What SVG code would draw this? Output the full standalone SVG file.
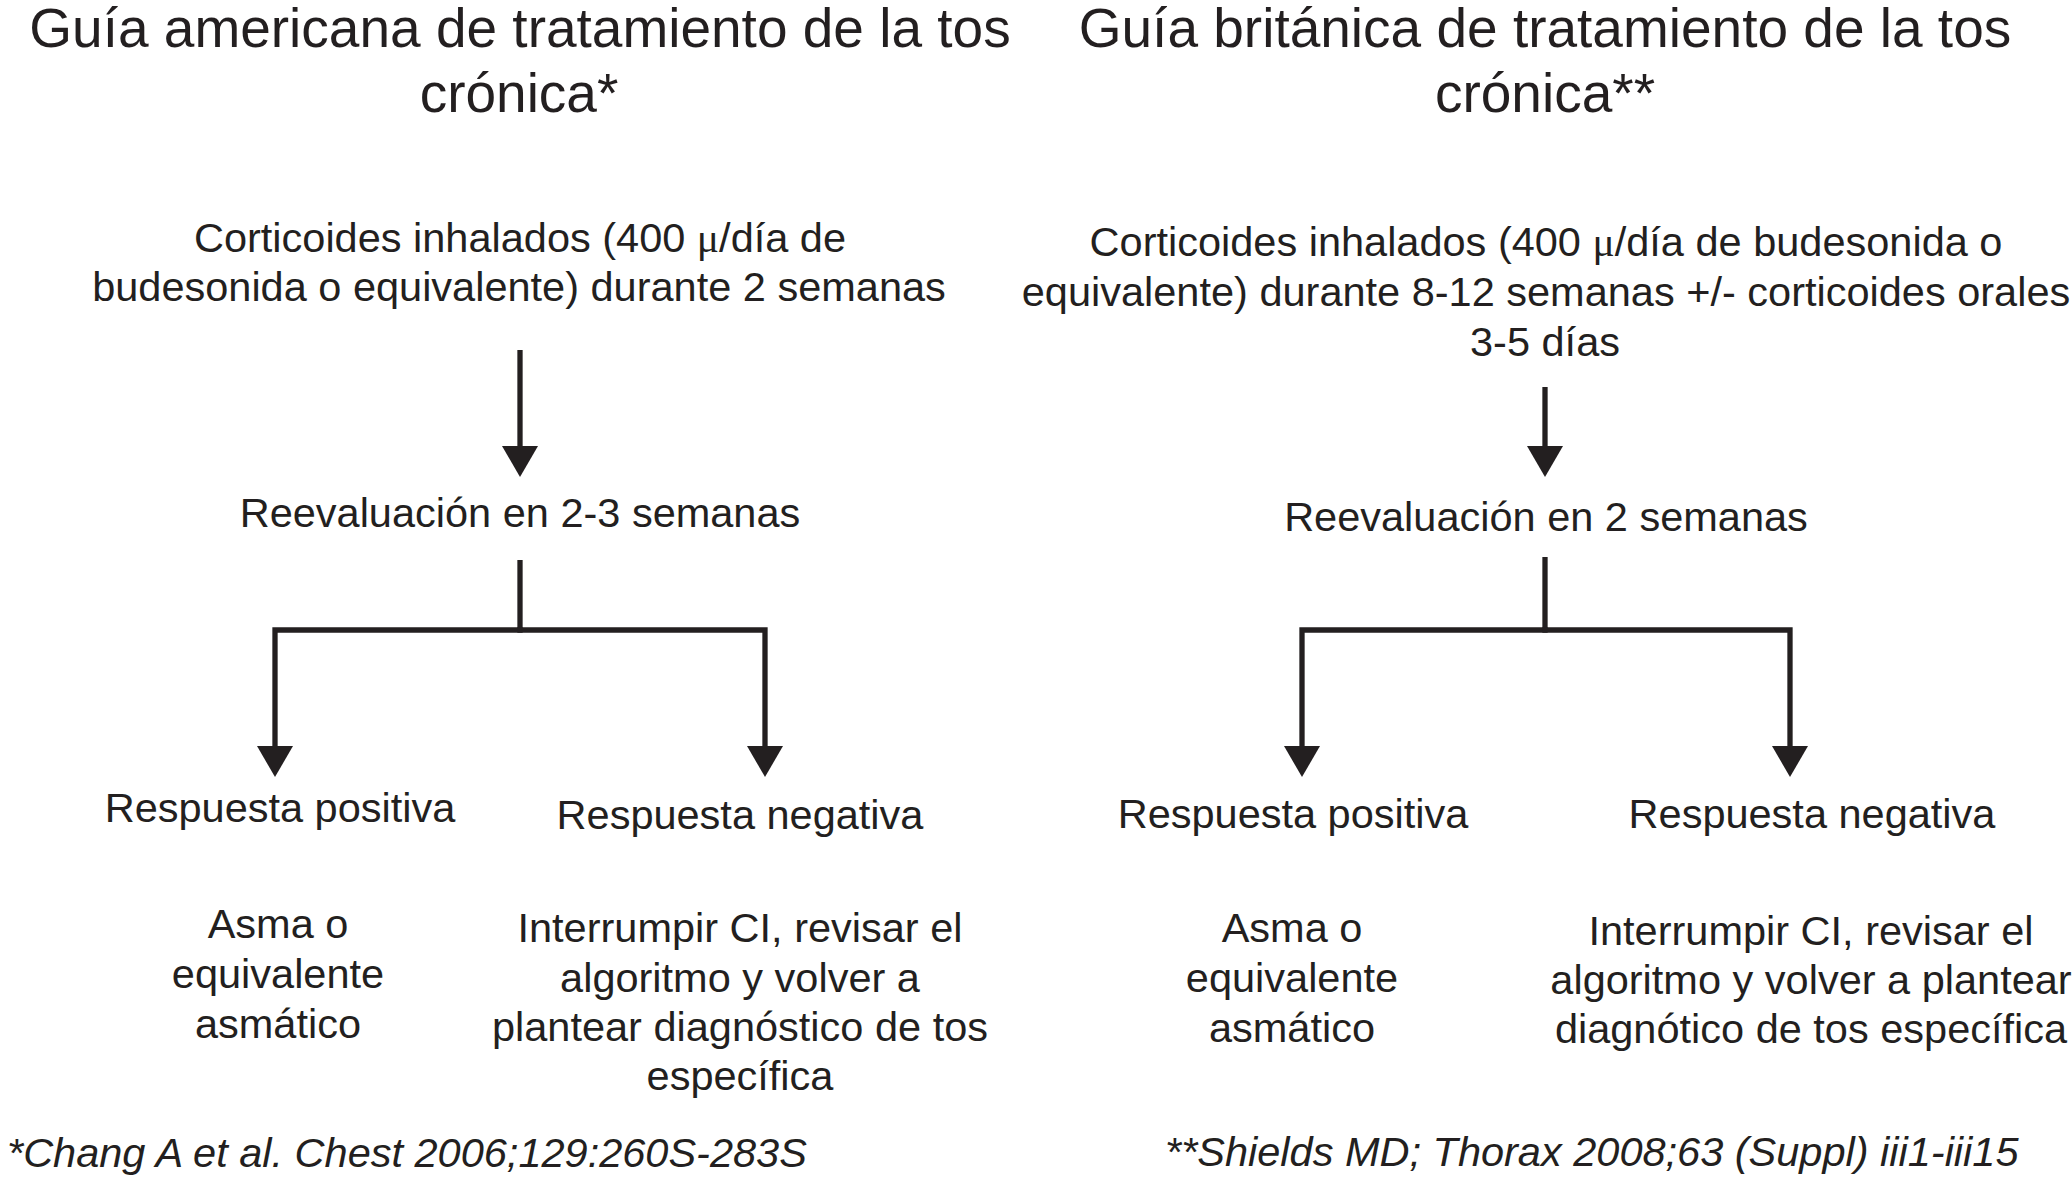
<svg xmlns="http://www.w3.org/2000/svg" width="2072" height="1178" viewBox="0 0 2072 1178">
<style>
text{font-family:"Liberation Sans",Arial,Helvetica,sans-serif;fill:#231f20;text-anchor:middle}
.t{font-size:55px}
.b{font-size:41.5px}
.f{font-size:41.5px;font-style:italic;text-anchor:start}
.mu{font-family:"Liberation Serif","Times New Roman",serif}
.c{fill:none;stroke:#231f20;stroke-width:5.3;stroke-linejoin:miter;stroke-linecap:butt}
</style>
<defs>
<marker id="ah" viewBox="0 0 31 36" refX="1" refY="18" markerWidth="31" markerHeight="36" markerUnits="userSpaceOnUse" orient="auto">
<path d="M0,0 L31,18 L0,36 Z" fill="#231f20"/>
</marker>
</defs>
<rect width="2072" height="1178" fill="#ffffff"/>
<g id="title-left"><text class="t" x="520" y="47">Guía americana de tratamiento de la tos</text><text class="t" x="519" y="112">crónica*</text></g>
<g id="title-right"><text class="t" x="1545" y="47">Guía británica de tratamiento de la tos</text><text class="t" x="1545" y="112">crónica**</text></g>
<g id="left-ci"><text class="b" x="520" y="252">Corticoides inhalados (400 <tspan class="mu">μ</tspan>/día de</text><text class="b" x="519" y="301">budesonida o equivalente) durante 2 semanas</text></g>
<g id="right-ci"><text class="b" x="1546" y="256">Corticoides inhalados (400 <tspan class="mu">μ</tspan>/día de budesonida o</text><text class="b" x="1546" y="306">equivalente) durante 8-12 semanas +/- corticoides orales</text><text class="b" x="1545" y="356">3-5 días</text></g>
<g id="left-reeval"><text class="b" x="520" y="527">Reevaluación en 2-3 semanas</text></g>
<g id="right-reeval"><text class="b" x="1546" y="531">Reevaluación en 2 semanas</text></g>
<g id="left-pos"><text class="b" x="280" y="822">Respuesta positiva</text></g>
<g id="left-neg"><text class="b" x="740" y="829">Respuesta negativa</text></g>
<g id="right-pos"><text class="b" x="1293" y="828">Respuesta positiva</text></g>
<g id="right-neg"><text class="b" x="1812" y="828">Respuesta negativa</text></g>
<g id="left-asma"><text class="b" x="278" y="938">Asma o</text><text class="b" x="278" y="988">equivalente</text><text class="b" x="278" y="1038">asmático</text></g>
<g id="left-interr"><text class="b" x="740" y="942">Interrumpir CI, revisar el</text><text class="b" x="740" y="992">algoritmo y volver a</text><text class="b" x="740" y="1041">plantear diagnóstico de tos</text><text class="b" x="740" y="1090">específica</text></g>
<g id="right-asma"><text class="b" x="1292" y="942">Asma o</text><text class="b" x="1292" y="992">equivalente</text><text class="b" x="1292" y="1042">asmático</text></g>
<g id="right-interr"><text class="b" x="1811" y="945">Interrumpir CI, revisar el</text><text class="b" x="1811" y="994">algoritmo y volver a plantear</text><text class="b" x="1811" y="1043">diagnótico de tos específica</text></g>
<g id="ref-left"><text class="f" x="7" y="1167">*Chang A et al. Chest 2006;129:260S-283S</text></g>
<g id="ref-right"><text class="f" x="1165" y="1166">**Shields MD; Thorax 2008;63 (Suppl) iii1-iii15</text></g>
<g id="connectors">
<path class="c" d="M520,350 V447" marker-end="url(#ah)"/>
<path class="c" d="M520,560 V630"/>
<path class="c" d="M522.65,630 H275 V747" marker-end="url(#ah)"/>
<path class="c" d="M517.35,630 H765 V747" marker-end="url(#ah)"/>
<path class="c" d="M1545,387 V447" marker-end="url(#ah)"/>
<path class="c" d="M1545,557 V630"/>
<path class="c" d="M1547.65,630 H1302 V747" marker-end="url(#ah)"/>
<path class="c" d="M1542.35,630 H1790 V747" marker-end="url(#ah)"/>
</g>
</svg>
